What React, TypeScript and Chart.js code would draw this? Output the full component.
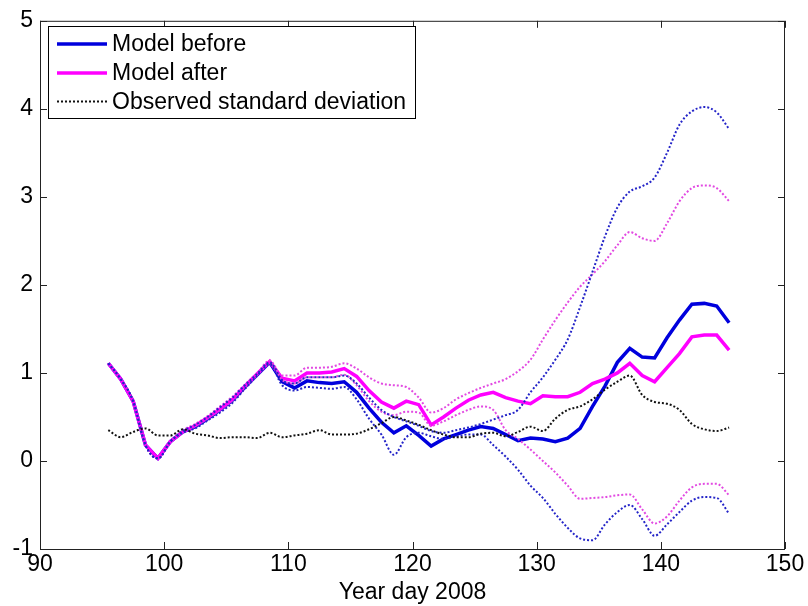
import React, { useEffect, useRef } from 'react';
import { Chart, registerables } from 'chart.js';

Chart.register(...registerables);

const FONT = '"Liberation Sans", Arial, Helvetica, sans-serif';
const FS = 23;

const days = [95.5, 96.5, 97.5, 98.5, 99.5, 100.5, 101.5, 102.5, 103.5, 104.5, 105.5, 106.5, 107.5, 108.5, 109.5, 110.5, 111.5, 112.5, 113.5, 114.5, 115.5, 116.5, 117.5, 118.5, 119.5, 120.5, 121.5, 122.5, 123.5, 124.5, 125.5, 126.5, 127.5, 128.5, 129.5, 130.5, 131.5, 132.5, 133.5, 134.5, 135.5, 136.5, 137.5, 138.5, 139.5, 140.5, 141.5, 142.5, 143.5, 144.5, 145.5];

const modelBefore = [1.11, 0.93, 0.68, 0.18, 0.03, 0.22, 0.33, 0.39, 0.48, 0.58,
  0.69, 0.84, 0.98, 1.12, 0.90, 0.83, 0.91, 0.89, 0.88, 0.90,
  0.78, 0.60, 0.44, 0.32, 0.40, 0.29, 0.17, 0.25, 0.30, 0.35,
  0.39, 0.37, 0.30, 0.23, 0.26, 0.25, 0.22, 0.26, 0.37, 0.62,
  0.85, 1.12, 1.28, 1.18, 1.17, 1.40, 1.60, 1.78, 1.79, 1.76,
  1.57];

const modelAfter = [1.11, 0.93, 0.68, 0.18, 0.03, 0.22, 0.33, 0.40, 0.49, 0.59,
  0.70, 0.85, 0.99, 1.13, 0.94, 0.91, 1.00, 1.00, 1.01, 1.05,
  0.96, 0.80, 0.67, 0.60, 0.68, 0.64, 0.41, 0.50, 0.60, 0.69,
  0.75, 0.78, 0.72, 0.68, 0.65, 0.74, 0.73, 0.73, 0.78, 0.88,
  0.93, 1.00, 1.11, 0.97, 0.90, 1.06, 1.22, 1.41, 1.43, 1.43,
  1.26];

const observedStd = [0.35, 0.27, 0.33, 0.37, 0.29, 0.29, 0.36, 0.31, 0.29, 0.26,
  0.27, 0.27, 0.26, 0.32, 0.27, 0.29, 0.31, 0.35, 0.30, 0.30,
  0.31, 0.36, 0.43, 0.50, 0.46, 0.41, 0.35, 0.30, 0.27, 0.27,
  0.31, 0.32, 0.28, 0.33, 0.39, 0.34, 0.48, 0.58, 0.62, 0.70,
  0.81, 0.90, 0.97, 0.75, 0.67, 0.65, 0.58, 0.42, 0.36, 0.34,
  0.38];

const beforeUpper = [1.11, 0.93, 0.68, 0.18, 0.03, 0.22,
  0.34, 0.41, 0.50, 0.61, 0.72, 0.86, 0.99, 1.12, 0.92, 0.88,
  0.95, 0.95, 0.95, 0.97, 0.88, 0.72, 0.58, 0.50, 0.45, 0.40,
  0.34, 0.32, 0.35, 0.38, 0.42, 0.47, 0.52, 0.58, 0.78, 0.95,
  1.15, 1.38, 1.75, 2.15, 2.55, 2.88, 3.06, 3.12, 3.22, 3.50,
  3.82, 3.97, 4.02, 3.96, 3.77];

const beforeLower = [1.11, 0.93, 0.68, 0.18, 0.03, 0.22,
  0.32, 0.37, 0.46, 0.55, 0.66, 0.82, 0.97, 1.10, 0.86, 0.80,
  0.84, 0.83, 0.82, 0.84, 0.70, 0.48, 0.30, 0.07, 0.27, 0.32,
  0.28, 0.25, 0.28, 0.30, 0.30, 0.18, 0.05, -0.10, -0.28, -0.42,
  -0.60, -0.76, -0.88, -0.90, -0.72, -0.58, -0.50, -0.66, -0.85, -0.72,
  -0.58, -0.45, -0.41, -0.42, -0.60];

const afterUpper = [1.11, 0.93, 0.68, 0.18, 0.03, 0.22,
  0.35, 0.42, 0.51, 0.62, 0.73, 0.87, 1.00, 1.14, 0.97, 0.97,
  1.06, 1.06, 1.07, 1.11, 1.05, 0.95, 0.88, 0.86, 0.84, 0.72,
  0.55, 0.60, 0.70, 0.77, 0.83, 0.88, 0.93, 1.02, 1.15, 1.38,
  1.60, 1.80, 1.98, 2.12, 2.27, 2.45, 2.60, 2.53, 2.50, 2.70,
  2.95, 3.10, 3.13, 3.10, 2.95];

const afterLower = [1.11, 0.93, 0.68, 0.18, 0.03, 0.22,
  0.32, 0.38, 0.47, 0.56, 0.67, 0.82, 0.97, 1.10, 0.92, 0.88,
  0.95, 0.95, 0.95, 0.98, 0.86, 0.68, 0.56, 0.52, 0.56, 0.55,
  0.40, 0.45, 0.52, 0.58, 0.62, 0.58, 0.35, 0.25, 0.13, 0.00,
  -0.13, -0.28, -0.43, -0.42, -0.41, -0.39, -0.38, -0.55, -0.71, -0.63,
  -0.45, -0.30, -0.26, -0.26, -0.39];

const legendLabels = ['Model before', 'Model after', 'Observed standard deviation'];
const xTitle = 'Year day 2008';

const BLUE = '#0000dd';
const MAGENTA = '#ff00ff';
const BLACK = '#111111';
const BLUE_DOT = '#2424c8';
const MAGENTA_DOT = '#e24ae2';

const toPoints = (vals: number[]) => vals.map((v, i) => ({ x: days[i], y: v }));

const framePlugin = {
  id: 'frame',
  afterDraw(chart: any) {
    const { ctx, chartArea: a, scales } = chart;
    ctx.save();
    ctx.strokeStyle = '#222';
    ctx.lineWidth = 1;
    ctx.strokeRect(a.left + 0.5, a.top + 0.5, a.right - a.left - 1, a.bottom - a.top);
    const L = 7;
    ctx.beginPath();
    scales.x.ticks.forEach((t: any) => {
      const px = Math.round(scales.x.getPixelForValue(t.value)) + 0.5;
      ctx.moveTo(px, a.bottom); ctx.lineTo(px, a.bottom - L);
      ctx.moveTo(px, a.top); ctx.lineTo(px, a.top + L);
    });
    scales.y.ticks.forEach((t: any) => {
      const py = Math.round(scales.y.getPixelForValue(t.value)) + 0.5;
      ctx.moveTo(a.left, py); ctx.lineTo(a.left + L, py);
      ctx.moveTo(a.right, py); ctx.lineTo(a.right - L, py);
    });
    ctx.stroke();

    // legend box
    const bx = 48, by = 26, bw = 367, bh = 92;
    ctx.fillStyle = '#fff';
    ctx.fillRect(bx, by, bw, bh);
    ctx.strokeStyle = '#000';
    ctx.strokeRect(bx + 0.5, by + 0.5, bw, bh);
    const rows = [44, 73, 101.5];
    chart.data.datasets.slice(0, 3).forEach((ds: any, i: number) => {
      ctx.save();
      ctx.strokeStyle = ds.borderColor;
      ctx.lineWidth = ds.borderWidth;
      ctx.setLineDash(ds.borderDash || []);
      ctx.beginPath();
      ctx.moveTo(57, rows[i]);
      ctx.lineTo(107, rows[i]);
      ctx.stroke();
      ctx.restore();
      ctx.fillStyle = '#000';
      ctx.font = `${FS}px ${FONT}`;
      ctx.textBaseline = 'middle';
      ctx.textAlign = 'left';
      ctx.fillText(legendLabels[i], 112, rows[i] + 1);
    });
    ctx.restore();
  },
};

export default function App() {
  const ref = useRef<HTMLCanvasElement>(null);
  useEffect(() => {
    const solid = (label: string, color: string, vals: number[], order: number) => ({
      label, data: toPoints(vals), borderColor: color, backgroundColor: color,
      borderWidth: 3.5, pointRadius: 0, tension: 0, order, fill: false,
    });
    const dotted = (label: string, color: string, vals: number[], order: number) => ({
      label, data: toPoints(vals), borderColor: color, backgroundColor: color,
      borderWidth: 2, borderDash: [2, 2], borderCapStyle: 'butt', pointRadius: 0,
      cubicInterpolationMode: 'monotone', order, fill: false,
    });
    const chart = new Chart(ref.current as HTMLCanvasElement, {
      type: 'line',
      data: {
        datasets: [
          solid(legendLabels[0], BLUE, modelBefore, 6),
          solid(legendLabels[1], MAGENTA, modelAfter, 5),
          dotted(legendLabels[2], BLACK, observedStd, 1),
          dotted('Model before upper', BLUE_DOT, beforeUpper, 2),
          dotted('Model before lower', BLUE_DOT, beforeLower, 2),
          dotted('Model after upper', MAGENTA_DOT, afterUpper, 3),
          dotted('Model after lower', MAGENTA_DOT, afterLower, 3),
        ] as any,
      },
      options: {
        responsive: false,
        animation: false,
        layout: { padding: { top: 17, right: 23, left: 0, bottom: 0 } },
        plugins: { legend: { display: false }, tooltip: { enabled: false }, title: { display: false } },
        scales: {
          x: {
            type: 'linear', min: 90, max: 150,
            ticks: { stepSize: 10, color: '#000', font: { family: FONT, size: FS }, padding: 2, maxRotation: 0, autoSkip: false },
            grid: { display: false, drawTicks: false },
            border: { display: false },
            title: { display: true, text: xTitle, color: '#000', font: { family: FONT, size: FS }, padding: { top: 0, bottom: 0 } },
            afterFit: (s: any) => { s.height = 57; },
          },
          y: {
            type: 'linear', min: -1, max: 5,
            ticks: { stepSize: 1, color: '#000', font: { family: FONT, size: FS }, padding: 7, callback: (v: any) => String(v) },
            grid: { display: false, drawTicks: false },
            border: { display: false },
            afterFit: (s: any) => { s.width = 40; },
          },
        },
      } as any,
      plugins: [framePlugin],
    });
    return () => chart.destroy();
  }, []);
  return (
    <div style={{ position: 'fixed', left: 0, top: 0, width: 808, height: 606, background: '#fff' }}>
      <canvas ref={ref} width={808} height={606} style={{ width: 808, height: 606, display: 'block' }} />
    </div>
  );
}
